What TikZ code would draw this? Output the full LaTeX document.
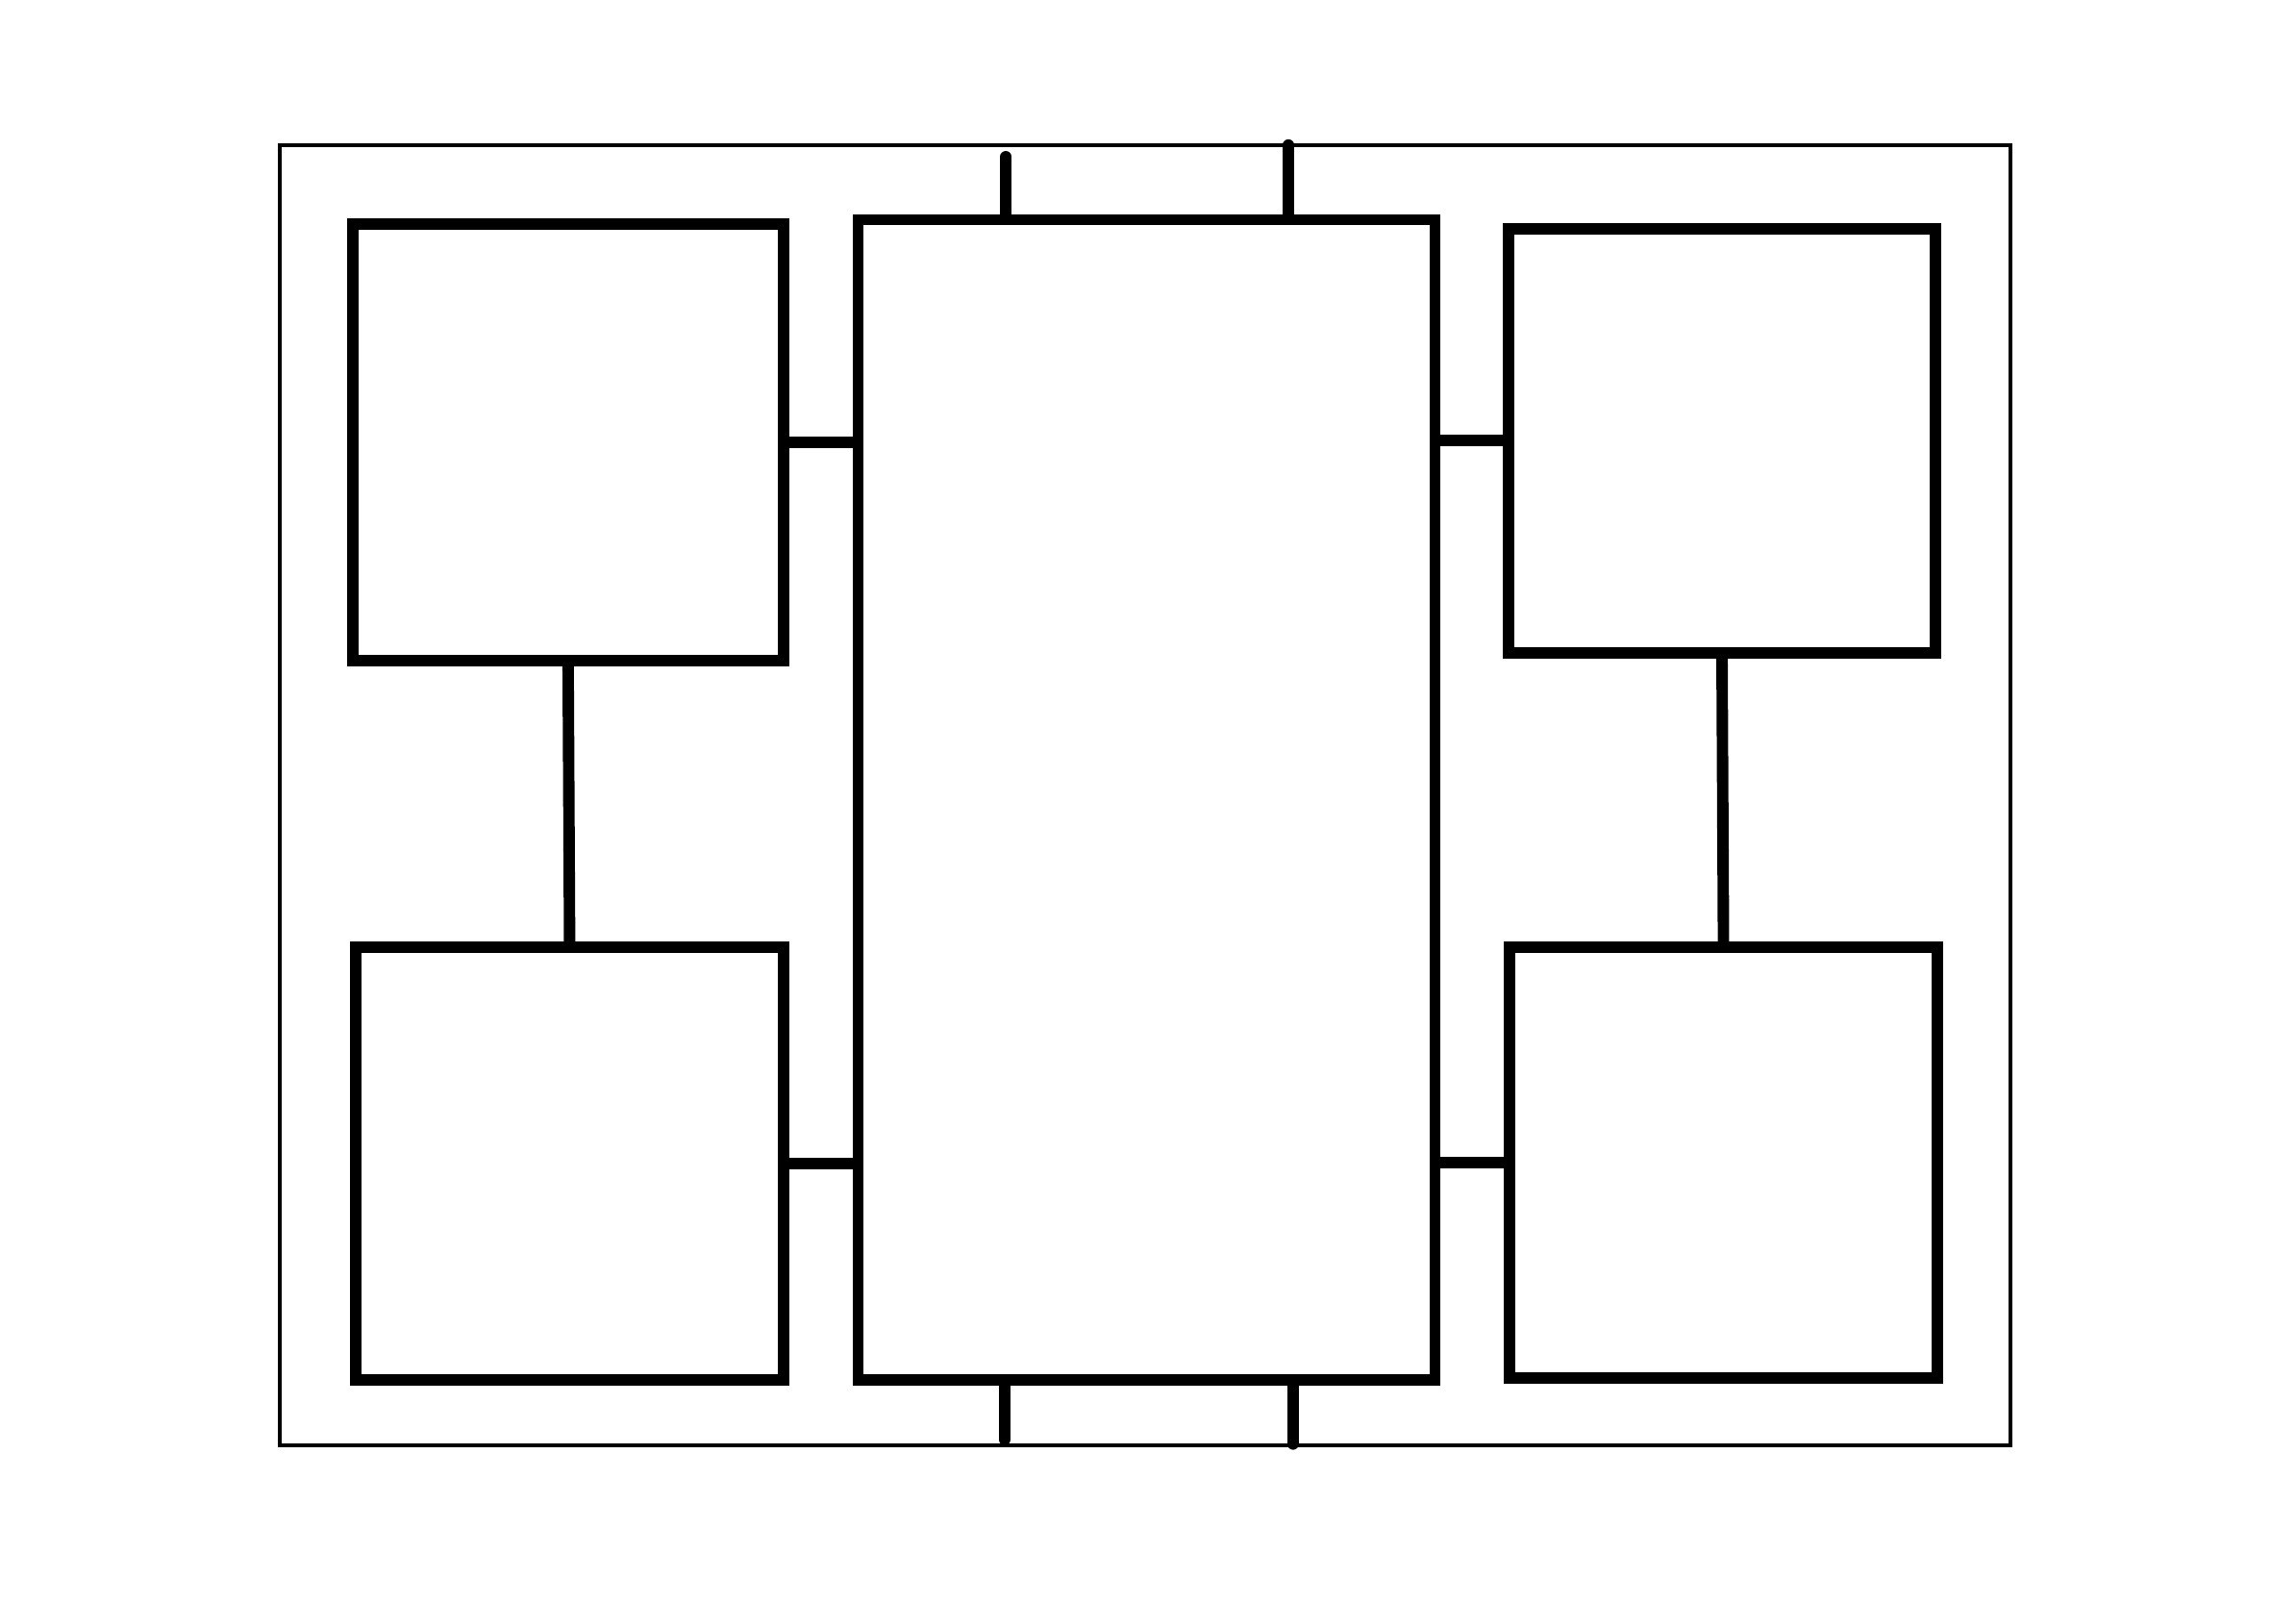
\documentclass[tikz,border=0pt]{standalone}
\usepackage{tikz}
\usetikzlibrary{positioning}

\begin{document}
\begin{tikzpicture}[x=0.01531cm, y=-0.01531cm]
\tikzstyle{box}=[draw, rectangle, line width=3.4pt, inner sep=0pt]
\tikzstyle{frame}=[draw, rectangle, line width=1.3pt, inner sep=0pt]
\tikzstyle{link}=[draw, line width=3.4pt, line cap=round]

\def \u {0.01531cm}

\useasboundingbox (0,0) rectangle (1568,1095.2);

\node[frame, minimum width=1182*\u, minimum height=888*\u]	(outer) at	(782,	543)	{};

\node[box, minimum width=294*\u, minimum height=298*\u]	(tl) at		(388,	302)	{};
\node[box, minimum width=292*\u, minimum height=295*\u]	(bl) at		(389,	794.5)	{};
\node[box, minimum width=394*\u, minimum height=792*\u]	(main) at	(783,	546)	{};
\node[box, minimum width=292*\u, minimum height=290*\u]	(tr) at		(1176,	301)	{};
\node[box, minimum width=292*\u, minimum height=294*\u]	(br) at		(1177,	794)	{};

\coordinate (top1) at (687, 107);
\coordinate (top2) at (880, 99);
\coordinate (bot1) at (686, 983);
\coordinate (bot2) at (883, 986);

\path[link] (tl.east) -- (tl.east -| main.west);
\path[link] (bl.east) -- (bl.east -| main.west);
\path[link] (tr.west) -- (tr.west -| main.east);
\path[link] (br.west) -- (br.west -| main.east);

\path[link] (tl.south) -- (bl.north);
\path[link] (tr.south) -- (br.north);

\path[link] (top1) -- (top1 |- main.north);
\path[link] (top2) -- (top2 |- main.north);
\path[link] (bot1) -- (bot1 |- main.south);
\path[link] (bot2) -- (bot2 |- main.south);

\end{tikzpicture}
\end{document}
